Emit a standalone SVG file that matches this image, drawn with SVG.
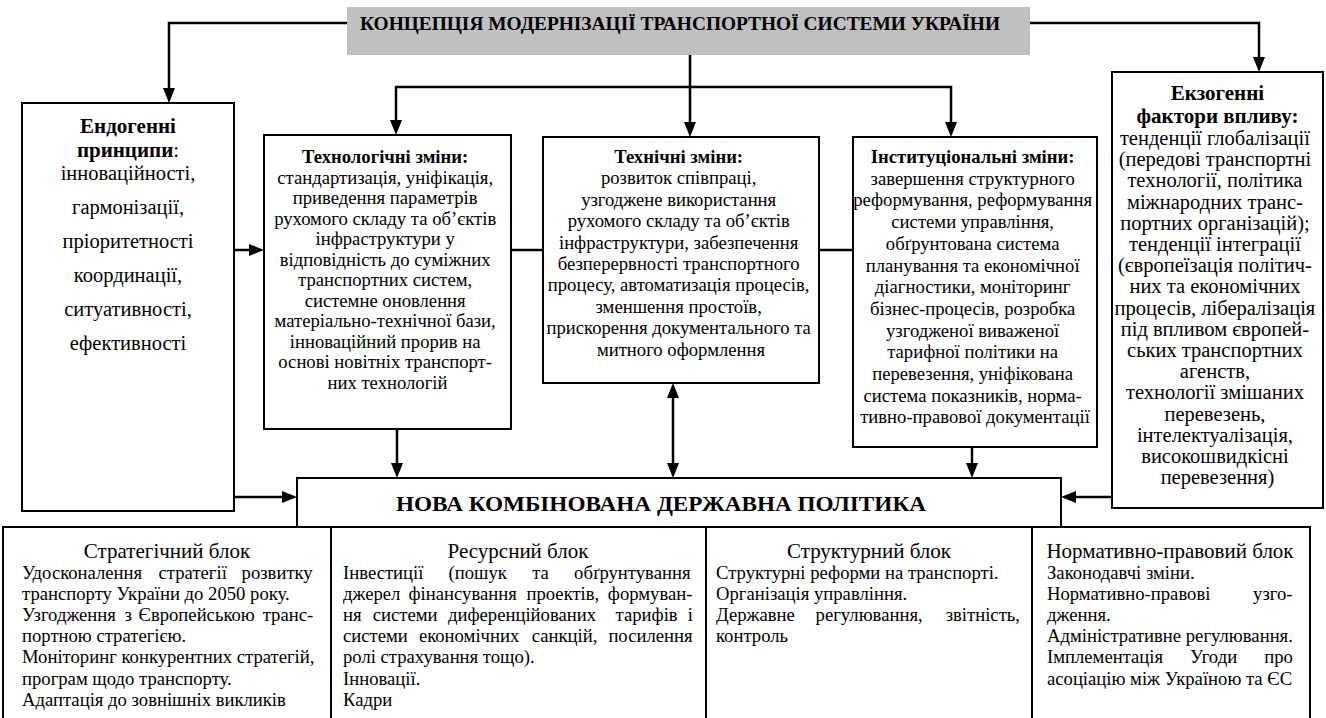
<svg xmlns="http://www.w3.org/2000/svg" width="1326" height="718" viewBox="0 0 1326 718">
<defs>
<style>
.box{fill:#fff;stroke:#000;stroke-width:2}
.conn{fill:none;stroke:#000;stroke-width:2.5}
.t{font-family:"Liberation Serif","Times New Roman",serif;font-size:18.67px;fill:#000}
.c{text-anchor:middle}
.b{font-weight:bold}
.h{font-size:21px;font-weight:bold}
.s{font-size:20.5px}
.bt{font-size:21px}
</style>
<marker id="ah" viewBox="0 0 15 12" refX="10" refY="6" markerWidth="15" markerHeight="12" markerUnits="userSpaceOnUse" orient="auto-start-reverse">
<path d="M0,0 L15,6 L0,12 z" fill="#000"/>
</marker>
</defs>
<rect width="1326" height="718" fill="#fff"/>

<g id="connectors">
<path class="conn" d="M347,23 H169 V98" marker-end="url(#ah)"/>
<path class="conn" d="M1030,23 H1259 V67" marker-end="url(#ah)"/>
<path class="conn" d="M690,55 V132" marker-end="url(#ah)"/>
<path class="conn" d="M690,87 H396 V130" marker-end="url(#ah)"/>
<path class="conn" d="M690,87 H951 V132" marker-end="url(#ah)"/>
<path class="conn" d="M234,250 H259" marker-end="url(#ah)"/>
<path class="conn" d="M511,250 H543"/>
<path class="conn" d="M819,250 H853"/>
<path class="conn" d="M234,497 H292" marker-end="url(#ah)"/>
<path class="conn" d="M1112,497 H1066" marker-end="url(#ah)"/>
<path class="conn" d="M397,429 V473" marker-end="url(#ah)"/>
<path class="conn" d="M673,388 V473" marker-start="url(#ah)" marker-end="url(#ah)"/>
<path class="conn" d="M972,447 V473" marker-end="url(#ah)"/>
</g>

<g id="concept">
<rect x="347" y="7" width="683" height="48" fill="#c0c0c0"/>
<text class="t b c" x="680" y="30" textLength="640" lengthAdjust="spacingAndGlyphs">КОНЦЕПЦІЯ МОДЕРНІЗАЦІЇ ТРАНСПОРТНОЇ СИСТЕМИ УКРАЇНИ</text>
</g>

<g id="endogenous">
<rect class="box" x="22" y="103" width="212" height="408"/>
<text class="t h c" x="128" y="133">Ендогенні</text>
<text class="t c" x="128" y="157" style="font-size:21px"><tspan class="b">принципи</tspan>:</text>
<text class="t s c" x="128" y="180">інноваційності,</text>
<text class="t s c" x="128" y="214">гармонізації,</text>
<text class="t s c" x="128" y="248">пріоритетності</text>
<text class="t s c" x="128" y="282">координації,</text>
<text class="t s c" x="128" y="316">ситуативності,</text>
<text class="t s c" x="128" y="350">ефективності</text>
</g>

<g id="technological">
<rect class="box" x="264" y="135" width="247" height="294"/>
<text class="t c" x="387.5">
<tspan class="b" x="387.5" y="163">Технологічні зміни:</tspan>
<tspan x="387.5" y="183.5">стандартизація, уніфікація,</tspan>
<tspan x="387.5" y="204">приведення параметрів</tspan>
<tspan x="387.5" y="224.5">рухомого складу та об’єктів</tspan>
<tspan x="387.5" y="245">інфраструктури у</tspan>
<tspan x="387.5" y="265.5">відповідність до суміжних</tspan>
<tspan x="387.5" y="286">транспортних систем,</tspan>
<tspan x="387.5" y="306.5">системне оновлення</tspan>
<tspan x="387.5" y="327">матеріально-технічної бази,</tspan>
<tspan x="387.5" y="347.5">інноваційний прорив на</tspan>
<tspan x="387.5" y="368">основі новітніх транспорт-</tspan>
<tspan x="387.5" y="388.5">них технологій</tspan>
</text>
</g>

<g id="technical">
<rect class="box" x="543" y="137" width="276" height="246"/>
<text class="t c" x="681">
<tspan class="b" x="681" y="163">Технічні зміни:</tspan>
<tspan x="681" y="184.4">розвиток співпраці,</tspan>
<tspan x="681" y="205.8">узгоджене використання</tspan>
<tspan x="681" y="227.2">рухомого складу та об’єктів</tspan>
<tspan x="681" y="248.6">інфраструктури, забезпечення</tspan>
<tspan x="681" y="270">безперервності транспортного</tspan>
<tspan x="681" y="291.4">процесу, автоматизація процесів,</tspan>
<tspan x="681" y="312.8">зменшення простоїв,</tspan>
<tspan x="681" y="334.2">прискорення документального та</tspan>
<tspan x="681" y="355.6">митного оформлення</tspan>
</text>
</g>

<g id="institutional">
<rect class="box" x="853" y="137" width="244" height="310"/>
<text class="t c" x="975">
<tspan class="b" x="975" y="163">Інституціональні зміни:</tspan>
<tspan x="975" y="184.7">завершення структурного</tspan>
<tspan x="975" y="206.4">реформування, реформування</tspan>
<tspan x="975" y="228.1">системи управління,</tspan>
<tspan x="975" y="249.8">обґрунтована система</tspan>
<tspan x="975" y="271.5">планування та економічної</tspan>
<tspan x="975" y="293.2">діагностики, моніторинг</tspan>
<tspan x="975" y="314.9">бізнес-процесів, розробка</tspan>
<tspan x="975" y="336.6">узгодженої виваженої</tspan>
<tspan x="975" y="358.3">тарифної політики на</tspan>
<tspan x="975" y="380">перевезення, уніфікована</tspan>
<tspan x="975" y="401.7">система показників, норма-</tspan>
<tspan x="975" y="423.4">тивно-правової документації</tspan>
</text>
</g>

<g id="exogenous">
<rect class="box" x="1112" y="72" width="211" height="436"/>
<text class="t h c" x="1217.5" y="100">Екзогенні</text>
<text class="t h c" x="1217.5" y="123">фактори впливу:</text>
<text class="t s c" x="1217.5">
<tspan x="1217.5" y="145">тенденції глобалізації</tspan>
<tspan x="1217.5" y="166.2">(передові транспортні</tspan>
<tspan x="1217.5" y="187.4">технології, політика</tspan>
<tspan x="1217.5" y="208.6">міжнародних транс-</tspan>
<tspan x="1217.5" y="229.8">портних організацій);</tspan>
<tspan x="1217.5" y="251">тенденції інтеграції</tspan>
<tspan x="1217.5" y="272.2">(європеїзація політич-</tspan>
<tspan x="1217.5" y="293.4">них та економічних</tspan>
<tspan x="1217.5" y="314.6">процесів, лібералізація</tspan>
<tspan x="1217.5" y="335.8">під впливом європей-</tspan>
<tspan x="1217.5" y="357">ських транспортних</tspan>
<tspan x="1217.5" y="378.2">агенств,</tspan>
<tspan x="1217.5" y="399.4">технології змішаних</tspan>
<tspan x="1217.5" y="420.6">перевезень,</tspan>
<tspan x="1217.5" y="441.8">інтелектуалізація,</tspan>
<tspan x="1217.5" y="463">високошвидкісні</tspan>
<tspan x="1217.5" y="484.2">перевезення)</tspan>
</text>
</g>

<g id="policy">
<rect class="box" x="297" y="478" width="764" height="49"/>
<text class="t b c" x="661" y="511" style="font-size:21.3px" textLength="530" lengthAdjust="spacingAndGlyphs">НОВА КОМБІНОВАНА ДЕРЖАВНА ПОЛІТИКА</text>
</g>

<g id="strategic">
<rect class="box" x="3" y="527" width="328" height="195"/>
<text class="t bt c" x="167" y="558">Стратегічний блок</text>
<text class="t" y="579"><tspan x="22">Удосконалення</tspan><tspan x="158.6">стратегії</tspan><tspan x="241.6">розвитку</tspan></text>
<text class="t" x="22" y="600.1">транспорту України до 2050 року.</text>
<text class="t" y="621.2"><tspan x="22">Узгодження</tspan><tspan x="124.5">з</tspan><tspan x="138.6">Європейською</tspan><tspan x="262.7">транс-</tspan></text>
<text class="t" x="22" y="642.3">портною стратегією.</text>
<text class="t" x="22" y="663.4">Моніторинг конкурентних стратегій,</text>
<text class="t" x="22" y="684.5">програм щодо транспорту.</text>
<text class="t" x="22" y="705.6">Адаптація до зовнішніх викликів</text>
</g>

<g id="resource">
<rect class="box" x="331" y="527" width="375" height="195"/>
<text class="t bt c" x="518" y="558">Ресурсний блок</text>
<text class="t" y="579"><tspan x="343">Інвестиції</tspan><tspan x="448.5">(пошук</tspan><tspan x="532.2">та</tspan><tspan x="574.1">обґрунтування</tspan></text>
<text class="t" y="600.1"><tspan x="343">джерел</tspan><tspan x="408.5">фінансування</tspan><tspan x="526.5">проектів,</tspan><tspan x="607.8">формуван-</tspan></text>
<text class="t" y="621.2"><tspan x="343">ня</tspan><tspan x="372.8">системи</tspan><tspan x="448">диференційованих</tspan><tspan x="615.6">тарифів</tspan><tspan x="687.8">і</tspan></text>
<text class="t" y="642.3"><tspan x="343">системи</tspan><tspan x="418.9">економічних</tspan><tspan x="531.7">санкцій,</tspan><tspan x="608.4">посилення</tspan></text>
<text class="t" x="343" y="663.4">ролі страхування тощо).</text>
<text class="t" x="343" y="684.5">Інновації.</text>
<text class="t" x="343" y="705.6">Кадри</text>
</g>

<g id="structural">
<rect class="box" x="706" y="527" width="326" height="195"/>
<text class="t bt c" x="869" y="558">Структурний блок</text>
<text class="t" x="716" y="579">Структурні реформи на транспорті.</text>
<text class="t" x="716" y="600.1">Організація управління.</text>
<text class="t" y="621.2"><tspan x="716">Державне</tspan><tspan x="815.6">регулювання,</tspan><tspan x="945.7">звітність,</tspan></text>
<text class="t" x="716" y="642.3">контроль</text>
</g>

<g id="normative">
<rect class="box" x="1032" y="527" width="278" height="195"/>
<text class="t bt c" x="1170" y="558">Нормативно-правовий блок</text>
<text class="t" x="1047" y="579">Законодавчі зміни.</text>
<text class="t" y="600.1"><tspan x="1047">Нормативно-правові</tspan><tspan x="1253.1">узго-</tspan></text>
<text class="t" x="1047" y="621.2">дження.</text>
<text class="t" x="1047" y="642.3">Адміністративне регулювання.</text>
<text class="t" y="663.4"><tspan x="1047">Імплементація</tspan><tspan x="1190.1">Угоди</tspan><tspan x="1264.3">про</tspan></text>
<text class="t" x="1047" y="684.5">асоціацію між Україною та ЄС</text>
</g>
</svg>
